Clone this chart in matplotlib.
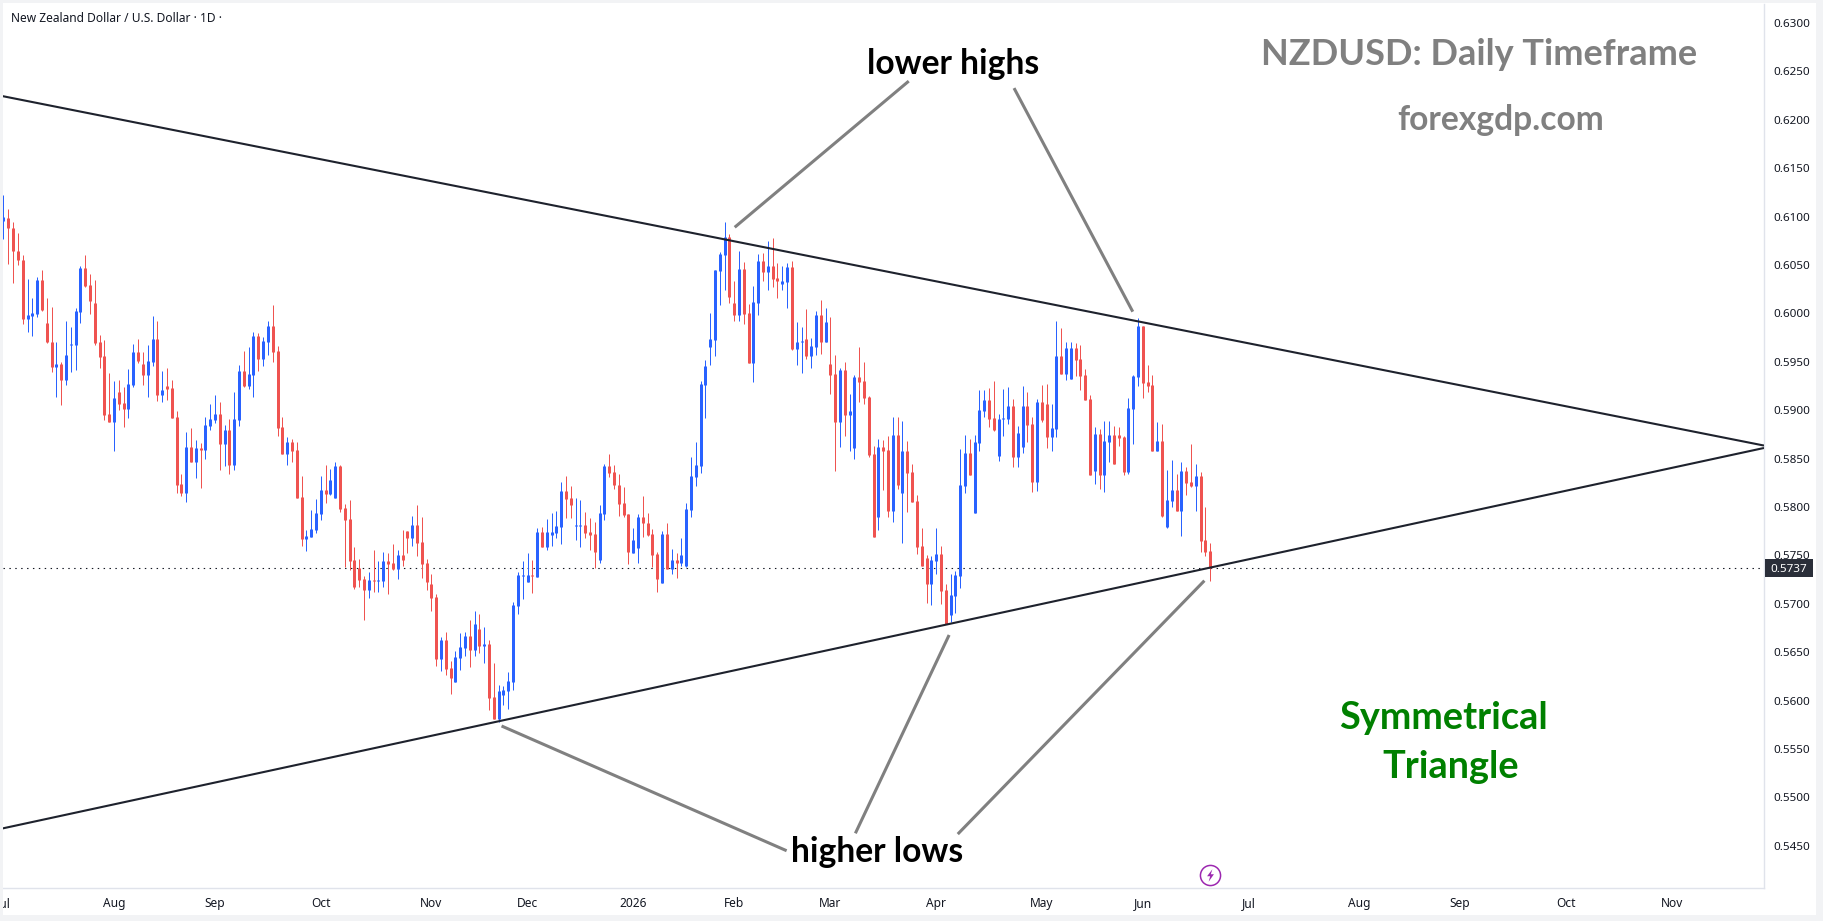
import numpy as np
from matplotlib import pyplot as plt
from matplotlib.patches import Rectangle

W, H = 1823, 921

# daily candles, prices in pips (0.0001)
opens = [
    6096, 6099, 6088, 6064, 6055, 5994, 5997, 5999, 6035, 5990,
    5971, 5945, 5948, 5931, 5967, 5967, 6001, 6047, 6029, 6011,
    5970, 5956, 5896, 5888, 5919, 5907, 5901, 5926, 5960, 5948,
    5936, 5950, 5974, 5916, 5925, 5923, 5893, 5824, 5815, 5862,
    5846, 5861, 5859, 5884, 5890, 5896, 5865, 5880, 5843, 5890,
    5941, 5925, 5936, 5977, 5953, 5970, 5987, 5961, 5883, 5855,
    5867, 5859, 5810, 5767, 5769, 5776, 5793, 5818, 5813, 5809,
    5842, 5799, 5788, 5745, 5737, 5726, 5714, 5725, 5724, 5724,
    5744, 5742, 5736, 5750, 5775, 5768, 5781, 5764, 5742, 5720,
    5707, 5643, 5663, 5634, 5619, 5644, 5654, 5667, 5652, 5674,
    5656, 5658, 5604, 5581, 5606, 5610, 5619, 5698, 5729, 5723,
    5730, 5728, 5774, 5759, 5771, 5773, 5779, 5817, 5809, 5780,
    5780, 5781, 5774, 5772, 5745, 5793, 5842, 5836, 5823, 5804,
    5793, 5753, 5758, 5790, 5784, 5772, 5751, 5722, 5772, 5736,
    5745, 5742, 5739, 5797, 5831, 5842, 5926, 5965, 5973, 6044,
    6060, 6079, 6011, 5998, 6046, 6000, 5949, 6011, 6054, 6043,
    6049, 6037, 6030, 6032, 6048, 5963, 5971, 5974, 5956, 5965,
    5998, 5971, 5948, 5937, 5888, 5942, 5895, 5861, 5934, 5930,
    5914, 5855, 5790, 5862, 5859, 5796, 5874, 5814, 5858, 5836,
    5806, 5760, 5747, 5720, 5744, 5751, 5714, 5688, 5708, 5729,
    5822, 5856, 5794, 5866, 5899, 5911, 5892, 5853, 5891, 5891,
    5904, 5852, 5862, 5904, 5886, 5826, 5909, 5906, 5872, 5881,
    5956, 5937, 5932, 5964, 5953, 5936, 5912, 5837, 5875, 5833,
    5867, 5874, 5874, 5872, 5836, 5901, 5934, 5987, 5929, 5926,
    5858, 5868, 5779, 5806, 5818, 5796, 5837, 5826, 5822, 5832,
    5766, 5755,
]
highs = [
    6122, 6108, 6094, 6083, 6060, 6036, 6016, 6038, 6045, 6016,
    6007, 5970, 5950, 5992, 5986, 6006, 6049, 6060, 6041, 6035,
    5978, 5973, 5938, 5930, 5931, 5924, 5943, 5968, 5974, 5960,
    5967, 5997, 5992, 5941, 5944, 5931, 5899, 5834, 5877, 5882,
    5869, 5866, 5893, 5906, 5916, 5908, 5885, 5891, 5919, 5947,
    5961, 5965, 5981, 5980, 5976, 5992, 6009, 5966, 5893, 5872,
    5870, 5867, 5832, 5776, 5797, 5808, 5832, 5843, 5839, 5847,
    5843, 5803, 5807, 5759, 5746, 5729, 5733, 5756, 5744, 5754,
    5752, 5762, 5756, 5776, 5775, 5791, 5802, 5790, 5746, 5731,
    5710, 5666, 5671, 5641, 5651, 5670, 5671, 5683, 5693, 5689,
    5676, 5663, 5639, 5616, 5615, 5630, 5702, 5733, 5744, 5752,
    5745, 5778, 5779, 5788, 5794, 5796, 5826, 5832, 5822, 5809,
    5807, 5795, 5789, 5785, 5802, 5844, 5855, 5843, 5834, 5821,
    5793, 5778, 5793, 5811, 5794, 5777, 5754, 5775, 5783, 5757,
    5753, 5768, 5804, 5852, 5867, 5930, 5952, 6000, 6045, 6063,
    6094, 6082, 6034, 6064, 6053, 6010, 6028, 6061, 6062, 6075,
    6078, 6052, 6049, 6052, 6054, 5991, 5986, 6005, 5975, 6003,
    6014, 6006, 5996, 5957, 5944, 5950, 5917, 5936, 5965, 5950,
    5915, 5863, 5870, 5869, 5873, 5893, 5893, 5889, 5868, 5844,
    5812, 5778, 5750, 5749, 5778, 5760, 5720, 5731, 5734, 5860,
    5874, 5870, 5874, 5921, 5921, 5923, 5930, 5896, 5922, 5924,
    5912, 5884, 5925, 5919, 5893, 5912, 5926, 5927, 5906, 5992,
    5985, 5971, 5971, 5969, 5967, 5943, 5916, 5883, 5881, 5889,
    5889, 5884, 5883, 5873, 5913, 5936, 5995, 5987, 5947, 5936,
    5888, 5886, 5838, 5849, 5834, 5846, 5841, 5865, 5844, 5836,
    5800, 5763,
]
lows = [
    6077, 6051, 6031, 6050, 5989, 5981, 5977, 5996, 6002, 5969,
    5939, 5914, 5905, 5926, 5939, 5942, 5990, 6027, 5999, 5967,
    5944, 5890, 5888, 5858, 5900, 5883, 5892, 5924, 5949, 5926,
    5914, 5946, 5910, 5908, 5911, 5892, 5815, 5811, 5805, 5846,
    5830, 5820, 5850, 5880, 5887, 5838, 5842, 5834, 5838, 5884,
    5924, 5922, 5914, 5941, 5946, 5957, 5950, 5873, 5855, 5843,
    5846, 5809, 5760, 5755, 5769, 5773, 5787, 5804, 5812, 5809,
    5795, 5738, 5735, 5715, 5717, 5683, 5706, 5712, 5712, 5717,
    5710, 5735, 5726, 5739, 5752, 5760, 5749, 5727, 5714, 5693,
    5636, 5631, 5626, 5607, 5619, 5632, 5646, 5635, 5646, 5649,
    5639, 5590, 5581, 5578, 5595, 5591, 5611, 5689, 5705, 5723,
    5711, 5728, 5759, 5756, 5760, 5768, 5762, 5789, 5789, 5766,
    5759, 5768, 5756, 5737, 5742, 5787, 5831, 5819, 5791, 5790,
    5741, 5753, 5742, 5769, 5770, 5738, 5712, 5722, 5736, 5731,
    5727, 5739, 5738, 5790, 5822, 5835, 5892, 5947, 5956, 6009,
    6024, 6011, 5992, 5992, 5989, 5949, 5929, 5998, 6034, 6024,
    6027, 6016, 6024, 6006, 5962, 5947, 5938, 5953, 5944, 5957,
    5958, 5970, 5917, 5837, 5862, 5873, 5858, 5850, 5908, 5906,
    5852, 5769, 5776, 5818, 5790, 5785, 5819, 5763, 5795, 5805,
    5751, 5739, 5701, 5699, 5731, 5700, 5679, 5681, 5691, 5716,
    5815, 5833, 5794, 5858, 5893, 5883, 5879, 5848, 5873, 5886,
    5841, 5841, 5856, 5867, 5816, 5817, 5888, 5861, 5858, 5872,
    5937, 5931, 5932, 5935, 5921, 5911, 5833, 5824, 5819, 5816,
    5847, 5844, 5863, 5833, 5834, 5865, 5925, 5913, 5919, 5858,
    5858, 5790, 5778, 5800, 5796, 5770, 5812, 5821, 5796, 5754,
    5749, 5724,
]
closes = [
    6100, 6088, 6064, 6055, 5994, 5998, 6000, 6035, 6004, 5970,
    5945, 5948, 5931, 5957, 5968, 6003, 6047, 6028, 6013, 5969,
    5955, 5895, 5888, 5913, 5906, 5901, 5927, 5960, 5951, 5936,
    5951, 5974, 5916, 5921, 5922, 5892, 5823, 5815, 5862, 5846,
    5861, 5859, 5885, 5891, 5896, 5865, 5880, 5843, 5891, 5941,
    5925, 5937, 5977, 5953, 5972, 5987, 5960, 5882, 5855, 5867,
    5858, 5809, 5767, 5770, 5777, 5794, 5818, 5813, 5828, 5842,
    5798, 5787, 5744, 5717, 5725, 5714, 5725, 5724, 5725, 5744,
    5741, 5736, 5750, 5745, 5768, 5781, 5763, 5741, 5723, 5706,
    5643, 5663, 5633, 5623, 5645, 5655, 5667, 5652, 5679, 5656,
    5658, 5603, 5581, 5610, 5611, 5620, 5699, 5730, 5730, 5730,
    5729, 5774, 5759, 5774, 5774, 5780, 5817, 5808, 5802, 5781,
    5781, 5773, 5771, 5754, 5794, 5842, 5835, 5823, 5803, 5792,
    5754, 5766, 5790, 5783, 5771, 5750, 5726, 5772, 5736, 5745,
    5742, 5750, 5798, 5832, 5843, 5927, 5946, 5974, 6045, 6061,
    6079, 6017, 5998, 6046, 5999, 5949, 6012, 6054, 6043, 6049,
    6036, 6034, 6033, 6048, 5963, 5971, 5972, 5956, 5966, 5998,
    5971, 5991, 5936, 5888, 5942, 5895, 5899, 5934, 5929, 5913,
    5854, 5769, 5862, 5858, 5796, 5874, 5823, 5858, 5835, 5805,
    5759, 5739, 5720, 5745, 5751, 5713, 5679, 5709, 5730, 5823,
    5856, 5833, 5867, 5900, 5911, 5891, 5880, 5891, 5892, 5904,
    5852, 5876, 5904, 5885, 5826, 5909, 5890, 5872, 5882, 5956,
    5937, 5964, 5964, 5952, 5935, 5911, 5833, 5875, 5833, 5868,
    5874, 5844, 5871, 5836, 5902, 5935, 5987, 5928, 5925, 5858,
    5868, 5791, 5807, 5818, 5796, 5837, 5825, 5822, 5832, 5765,
    5754, 5737,
]

price_ticks = [
    0.6300, 0.6250, 0.6200, 0.6150, 0.6100, 0.6050, 0.6000, 0.5950, 0.5900,
    0.5850, 0.5800, 0.5750, 0.5700, 0.5650, 0.5600, 0.5550, 0.5500, 0.5450,
]
month_bars = [0, 23, 44, 66, 89, 109, 131, 152, 172, 194, 216, 237, 259, 282, 303, 325, 347]
month_labels = ['Jul', 'Aug', 'Sep', 'Oct', 'Nov', 'Dec', '2026', 'Feb', 'Mar', 'Apr', 'May',
                'Jun', 'Jul', 'Aug', 'Sep', 'Oct', 'Nov']
last_price = 0.5737

# triangle boundaries, (bar, price) at both ends
upper_bars = [-0.7, 366.2]
upper_prices = [0.6225, 0.58635]
lower_bars = [-0.7, 366.2]
lower_prices = [0.54674, 0.5861]

# grey call-out lines, bar and price at each end
callout_bars = [(152.1, 188.3), (210.2, 234.9), (103.6, 162.9), (196.7, 177.2), (249.8, 198.5)]
callout_prices = [(0.6089, 0.6240), (0.62328, 0.60018), (0.55738, 0.54449),
                  (0.56678, 0.54629), (0.57239, 0.54621)]

BLUE = '#2962ff'
RED = '#ef5350'
BAND = '#f2f3f5'
EDGE = '#e0e3eb'
INK = '#131722'

o = np.array(opens) / 1e4
h = np.array(highs) / 1e4
l = np.array(lows) / 1e4
c = np.array(closes) / 1e4
bars = np.arange(len(c))
colors = np.where(c >= o, BLUE, RED)

fig = plt.figure(figsize=(W/100, H/100), dpi=100, facecolor='white')
ax = fig.add_axes([3/W, 1-888/H, (1764-3)/W, (888-3.5)/H])
ax.set_xlim(-0.1, 366.2)
ax.set_ylim(0.54064, 0.63202)

# wicks 1px, bodies 3px, both snapped to the same pixel column
ax.vlines(bars, l, h, colors=colors, linewidth=0.72, capstyle='butt', zorder=3)
body_low = np.minimum(o, c)
body_high = np.maximum(np.maximum(o, c), body_low + 0.0001)
ax.vlines(bars, body_low, body_high, colors=colors, linewidth=2.16, capstyle='butt', zorder=3)

ax.plot(upper_bars, upper_prices, color='#1e222d', lw=1.5, zorder=4, solid_capstyle='butt')
ax.plot(lower_bars, lower_prices, color='#1e222d', lw=1.5, zorder=4, solid_capstyle='butt')
ax.axhline(last_price, color=INK, lw=0.8, ls=(0, (1.3, 4)), zorder=2)

for xs, ys in zip(callout_bars, callout_prices):
    ax.plot(xs, ys, color='#808080', lw=2.2, zorder=4, solid_capstyle='butt')

# axes furniture
for side in ['top', 'left']:
    ax.spines[side].set_visible(False)
for side in ['right', 'bottom']:
    ax.spines[side].set_color(EDGE)
    ax.spines[side].set_linewidth(1.0)
ax.yaxis.tick_right()
ax.set_yticks(price_ticks, ['%.4f' % p for p in price_ticks])
ax.set_xticks(month_bars, month_labels)
ax.tick_params(axis='y', length=0, pad=6.5, labelsize=8.4, labelcolor='#131722')
ax.tick_params(axis='x', length=0, pad=6.5, labelsize=8.6, labelcolor='#131722')
for lab in ax.get_xticklabels() + ax.get_yticklabels():
    lab.set_family('Noto Sans')
for lab in ax.get_xticklabels():
    if lab.get_text() == '2026':
        lab.set_fontweight('bold')

# last price tag on the scale
ax.add_patch(Rectangle((1.0004, last_price-0.00088), 0.0275, 0.00176, transform=ax.get_yaxis_transform(),
                       facecolor='#2a2e39', edgecolor='none', clip_on=False, zorder=6))
ax.text(1.0142, last_price, '%.4f' % last_price, transform=ax.get_yaxis_transform(), color='white',
        ha='center', va='center_baseline', family='Noto Sans', fontsize=8.4, fontweight='medium',
        zorder=7, clip_on=False)

# purple bolt badge under the last candle
bolt = [(0.3, 1), (-0.55, -0.12), (-0.05, -0.12), (-0.3, -1), (0.55, 0.2), (0.05, 0.2), (0.3, 1)]
ax.plot([bars[-1]], [0.5420], marker='o', ms=14.5, mfc='white', mec='#9c27b0', mew=1.1, zorder=5)
ax.plot([bars[-1]], [0.5420], marker=bolt, ms=9, mfc='#9c27b0', mec='none', zorder=6)


def label(x, y, txt, size, color, ha='left', family='Lato', weight='bold'):
    # x, y are image pixels, y at the text baseline
    fig.text(x/W, 1-y/H, txt, fontsize=size, color=color, ha=ha, va='baseline',
             family=family, fontweight=weight)


label(11, 22, 'New Zealand Dollar / U.S. Dollar · 1D ·', 8.6, '#131722', family='Noto Sans', weight='normal')
label(1479, 65, 'NZDUSD: Daily Timeframe', 26, '#808080', ha='center')
label(1501, 129.5, 'forexgdp.com', 24.2, '#808080', ha='center')
label(953, 74.5, 'lower highs', 24.2, 'black', ha='center')
label(877, 861.5, 'higher lows', 24.2, 'black', ha='center')
label(1443.5, 728.5, 'Symmetrical', 27.3, '#008000', ha='center')
label(1451, 778, 'Triangle', 27.3, '#008000', ha='center')

# light frame around the chart panel
for x0, y0, w, h_ in [(0, 0, 3, H), (0, 0, W, 3), (0, 915, W, 6), (1816, 0, 7, H)]:
    fig.add_artist(Rectangle((x0/W, 1-(y0+h_)/H), w/W, h_/H, transform=fig.transFigure,
                             facecolor=BAND, edgecolor='none', zorder=10))

fig.savefig('out.png', dpi=100, facecolor='white')
